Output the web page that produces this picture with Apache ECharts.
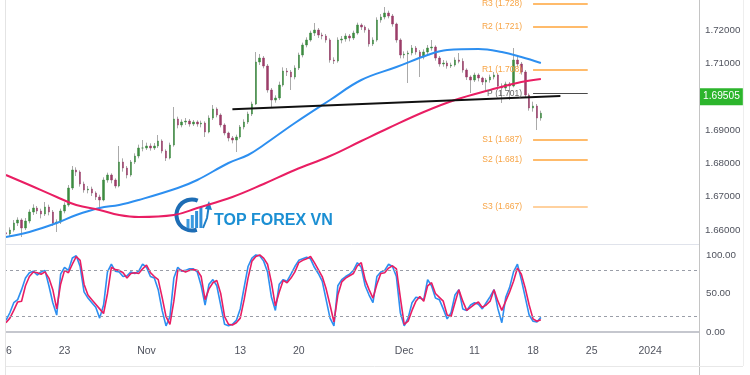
<!DOCTYPE html>
<html><head><meta charset="utf-8">
<script src="https://cdn.jsdelivr.net/npm/echarts@6/dist/echarts.min.js"></script>
<style>
html,body{margin:0;padding:0;background:#fff;}
#c{position:absolute;left:0;top:0;width:750px;height:375px;}
#mask{position:absolute;left:0;top:0;width:5px;height:375px;background:#fff;border-right:1px solid #e4e4e4;}
</style></head><body>
<div id="c"></div><div id="mask"></div>
<script>
// ---------- data ----------
const slotCount = 178; // bar slots on the time axis (incl. empty future)
const tickIndex = [0, 15, 36, 60, 75, 102, 120, 135, 150, 165];
const tickText  = ['16', '23', 'Nov', '13', '20', 'Dec', '11', '18', '25', '2024'];

const opens = [1.6592,1.6588,1.6600,1.6621,1.6630,1.6606,1.6627,1.6654,1.6666,1.6657,
1.6648,1.6669,1.6654,1.6621,1.6624,1.6657,1.6675,1.6726,1.6780,1.6774,
1.6738,1.6720,1.6723,1.6711,1.6699,1.6690,1.6750,1.6765,1.6750,1.6732,
1.6804,1.6786,1.6765,1.6804,1.6822,1.6846,1.6846,1.6852,1.6846,1.6852,
1.6867,1.6837,1.6816,1.6855,1.6933,1.6915,1.6924,1.6927,1.6918,1.6924,
1.6918,1.6921,1.6894,1.6936,1.6963,1.6945,1.6915,1.6891,1.6876,1.6870,
1.6879,1.6909,1.6924,1.6948,1.6978,1.7104,1.7116,1.7092,1.7020,1.6990,
1.6996,1.7035,1.7077,1.7074,1.7059,1.7086,1.7125,1.7155,1.7170,1.7191,
1.7200,1.7185,1.7182,1.7170,1.7110,1.7107,1.7170,1.7173,1.7182,1.7176,
1.7191,1.7215,1.7209,1.7200,1.7158,1.7170,1.7230,1.7239,1.7251,1.7242,
1.7218,1.7170,1.7125,1.7128,1.7131,1.7146,1.7134,1.7119,1.7134,1.7146,
1.7149,1.7116,1.7098,1.7101,1.7092,1.7095,1.7110,1.7106,1.7080,1.7059,
1.7050,1.7065,1.7056,1.7044,1.7050,1.7059,1.7065,1.7032,1.7026,1.7038,
1.7032,1.7110,1.7098,1.7074,1.7005,1.6966,1.6972,1.6936];
const closes = [1.6588,1.6600,1.6621,1.6630,1.6606,1.6627,1.6654,1.6666,1.6657,1.6648,
1.6669,1.6654,1.6621,1.6624,1.6657,1.6675,1.6726,1.6780,1.6774,1.6738,
1.6720,1.6723,1.6711,1.6699,1.6690,1.6750,1.6765,1.6750,1.6732,1.6804,
1.6786,1.6765,1.6804,1.6822,1.6846,1.6846,1.6852,1.6846,1.6852,1.6867,
1.6837,1.6816,1.6855,1.6933,1.6915,1.6924,1.6927,1.6918,1.6924,1.6918,
1.6921,1.6894,1.6936,1.6963,1.6945,1.6915,1.6891,1.6876,1.6870,1.6879,
1.6909,1.6924,1.6948,1.6978,1.7104,1.7116,1.7092,1.7020,1.6990,1.6996,
1.7035,1.7077,1.7074,1.7059,1.7086,1.7125,1.7155,1.7170,1.7191,1.7200,
1.7185,1.7182,1.7170,1.7110,1.7107,1.7170,1.7173,1.7182,1.7176,1.7191,
1.7215,1.7209,1.7200,1.7158,1.7170,1.7230,1.7239,1.7251,1.7242,1.7218,
1.7170,1.7125,1.7128,1.7131,1.7146,1.7134,1.7119,1.7134,1.7146,1.7149,
1.7116,1.7098,1.7101,1.7092,1.7095,1.7110,1.7106,1.7080,1.7059,1.7050,
1.7065,1.7056,1.7044,1.7050,1.7059,1.7065,1.7032,1.7026,1.7038,1.7032,
1.7110,1.7098,1.7074,1.7005,1.6966,1.6972,1.6936,1.69505];
const lows = [1.6561,1.6580,1.6595,1.6612,1.6579,1.6600,1.6620,1.6645,1.6648,1.6635,
1.6642,1.6644,1.6612,1.6594,1.6618,1.6650,1.6670,1.6720,1.6762,1.6730,
1.6712,1.6710,1.6702,1.6690,1.6666,1.6686,1.6742,1.6740,1.6725,1.6728,
1.6775,1.6755,1.6760,1.6798,1.6815,1.6836,1.6840,1.6838,1.6840,1.6846,
1.6830,1.6807,1.6812,1.6850,1.6905,1.6908,1.6915,1.6910,1.6912,1.6910,
1.6908,1.6879,1.6890,1.6930,1.6938,1.6908,1.6884,1.6866,1.6860,1.6834,
1.6874,1.6902,1.6918,1.6942,1.6975,1.7095,1.7085,1.7012,1.6966,1.6982,
1.6990,1.7030,1.7062,1.7020,1.7052,1.7080,1.7118,1.7148,1.7165,1.7182,
1.7176,1.7172,1.7162,1.7102,1.7098,1.7102,1.7160,1.7165,1.7166,1.7170,
1.7186,1.7200,1.7192,1.7150,1.7152,1.7165,1.7222,1.7232,1.7235,1.7210,
1.7162,1.7115,1.7115,1.7041,1.7124,1.7126,1.7059,1.7112,1.7128,1.7138,
1.7108,1.7090,1.7090,1.7084,1.7086,1.7090,1.7100,1.7072,1.7050,1.7011,
1.7044,1.7046,1.7035,1.7020,1.7042,1.7052,1.7025,1.6981,1.7018,1.6990,
1.7028,1.7088,1.7066,1.6998,1.6958,1.6955,1.6900,1.6928];
const highs = [1.6600,1.6608,1.6630,1.6638,1.6635,1.6636,1.6662,1.6677,1.6672,1.6664,
1.6684,1.6676,1.6660,1.6632,1.6664,1.6683,1.6735,1.6792,1.6788,1.6779,
1.6745,1.6732,1.6730,1.6716,1.6706,1.6758,1.6772,1.6770,1.6755,1.6852,
1.6815,1.6792,1.6810,1.6830,1.6856,1.6870,1.6862,1.6860,1.6861,1.6885,
1.6872,1.6842,1.6862,1.6969,1.6940,1.6932,1.6936,1.6933,1.6930,1.6929,
1.6928,1.6926,1.6944,1.6975,1.6968,1.6950,1.6920,1.6895,1.6882,1.6886,
1.6915,1.6932,1.6955,1.6985,1.7134,1.7128,1.7122,1.7098,1.7026,1.7004,
1.7045,1.7088,1.7086,1.7080,1.7094,1.7132,1.7162,1.7178,1.7198,1.7221,
1.7206,1.7192,1.7188,1.7175,1.7118,1.7178,1.7182,1.7190,1.7188,1.7198,
1.7222,1.7220,1.7214,1.7205,1.7178,1.7238,1.7248,1.7269,1.7258,1.7248,
1.7222,1.7175,1.7136,1.7138,1.7155,1.7152,1.7140,1.7142,1.7155,1.7170,
1.7154,1.7122,1.7110,1.7108,1.7102,1.7118,1.7131,1.7115,1.7085,1.7064,
1.7072,1.7070,1.7060,1.7056,1.7066,1.7074,1.7070,1.7040,1.7045,1.7044,
1.7146,1.7122,1.7104,1.7080,1.7010,1.6985,1.6978,1.6958];

const maBlueIdx = [0,6,13,18,24,29,34,44,49,57,62,66,74,83,91,100,108,113,121,127,132,137];
const maBlueVal = [1.6579,1.6594,1.6621,1.6645,1.6666,1.6675,1.6690,1.6726,1.6750,1.6801,1.6825,1.6855,1.6921,1.6990,1.7050,1.7089,1.7125,1.7140,1.7143,1.7134,1.7119,1.7101];
const maPinkIdx = [0,6,13,18,24,29,34,43,49,58,66,74,83,91,98,107,115,124,132,137];
const maPinkVal = [1.6765,1.6735,1.6699,1.6675,1.6660,1.6645,1.6639,1.6645,1.6666,1.6699,1.6738,1.6780,1.6822,1.6867,1.6906,1.6954,1.6990,1.7020,1.7044,1.7053];

const stochK = [15,25,38,42,55,70,77,79,74,78,
80,60,38,22,75,84,80,96,99,85,
52,44,38,32,18,35,78,88,79,78,
72,73,78,76,79,88,84,72,70,55,
28,8,20,70,84,79,80,82,82,78,
60,35,62,68,60,35,10,8,10,15,
30,58,85,96,100,99,92,78,45,28,
62,68,66,75,85,93,95,97,95,84,
76,66,42,18,8,60,68,72,75,80,
90,84,60,48,38,72,78,80,88,85,
72,25,8,18,38,45,44,42,68,60,
44,42,30,17,25,48,55,30,28,35,
38,36,30,38,46,55,30,12,45,58,
78,88,68,45,22,14,13,19];
const stochD = [12,18,28,39,40,60,72,78,77,75,
78,70,55,30,62,80,77,88,98,93,
62,48,42,36,30,24,50,84,81,80,
77,70,76,77,76,82,87,77,72,68,
45,20,10,40,80,80,78,80,81,80,
72,42,56,64,67,50,20,10,9,12,
18,42,70,92,98,100,96,88,64,34,
52,67,64,70,78,90,93,95,98,90,
81,72,56,35,13,48,65,70,73,76,
86,90,68,55,44,62,76,77,83,86,
82,45,10,14,28,40,46,40,60,64,
50,45,40,22,20,38,55,40,28,32,
36,39,32,35,40,55,40,28,40,52,
66,83,75,57,35,17,14,16];
const stochLevels = [80, 20];

const pivotNames  = ['R3', 'R2', 'R1', 'P', 'S1', 'S2', 'S3'];
const pivotValues = [1.728, 1.721, 1.708, 1.701, 1.687, 1.681, 1.667];
const pivotStart = 135, pivotEnd = 149;
const trendIdx = [58, 142];
const trendVal = [1.6962, 1.7002];
const lastPrice = 1.69505;

// ---------- styles ----------
const fam = '"Liberation Sans", Arial, sans-serif';
const axisText = '#50535e';
const upColor = '#3d8b40', downColor = '#9b3d68', wickColor = '#aaaaaa';
const pivotLineColors  = ['#ffa53a','#ffa53a','#ffa53a','#4a4a4a','#ffa53a','#ffa53a','#ffc27e'];
const pivotLabelColors = ['#f7a445','#f7a445','#f7a445','#666666','#f7a445','#f7a445','#f7a445'];

// ---------- build ----------
const categories = Array.from({length: slotCount}, (_, i) => {
  const k = tickIndex.indexOf(i); return k >= 0 ? tickText[k] : '';
});
const ohlc = opens.map((o, i) => [o, closes[i], lows[i], highs[i]]);
const bodies = opens.map((o, i) => [o, closes[i], Math.min(o, closes[i]), Math.max(o, closes[i])]);

const pivotMarks = pivotNames.map((n, k) => [
  { coord: [pivotStart, pivotValues[k]],
    lineStyle: { color: pivotLineColors[k], width: k === 3 ? 1.2 : 1.6, type: 'solid' },
    label: { show: true, position: 'start', distance: 11, formatter: n + ' (' + pivotValues[k].toFixed(3) + ')',
             color: pivotLabelColors[k], fontSize: 8.5, fontFamily: fam } },
  { coord: [pivotEnd, pivotValues[k]] }
]);

const chart = echarts.init(document.getElementById('c'), null, {renderer: 'canvas'});
chart.setOption({
  animation: false,
  backgroundColor: '#ffffff',
  grid: [
    { left: 4, right: 51, top: -3.33, height: 247.83, outerBoundsMode: 'none', containLabel: false },
    { left: 4, right: 51, top: 244.5, height: 92.5, outerBoundsMode: 'none', containLabel: false }
  ],
  xAxis: [
    { type: 'category', gridIndex: 0, data: categories, boundaryGap: true,
      axisLine: { show: true, lineStyle: { color: '#e0e3eb', width: 1 } },
      axisTick: { show: false }, axisLabel: { show: false }, splitLine: { show: false } },
    { type: 'category', gridIndex: 1, data: categories, boundaryGap: true,
      axisLine: { show: true, lineStyle: { color: '#b2b5be', width: 1.5 } },
      axisTick: { show: false }, splitLine: { show: false },
      axisLabel: { interval: 0, color: axisText, fontSize: 10.5, margin: 9, fontFamily: fam } }
  ],
  yAxis: [
    { type: 'value', gridIndex: 0, position: 'right', min: 1.65565, max: 1.73,
      minInterval: 0.01, maxInterval: 0.01,
      axisLine: { show: false }, axisTick: { show: false }, splitLine: { show: false },
      axisLabel: { showMinLabel: false, showMaxLabel: true, margin: 6, color: axisText, fontSize: 9.8,
                   fontFamily: fam, formatter: v => v.toFixed(5) } },
    { type: 'value', gridIndex: 1, position: 'right', min: -6.5, max: 113.6,
      minInterval: 50, maxInterval: 50,
      axisLine: { show: false }, axisTick: { show: false }, splitLine: { show: false },
      axisLabel: { showMinLabel: false, showMaxLabel: false, margin: 7, color: axisText, fontSize: 9.8,
                   fontFamily: fam, formatter: v => v.toFixed(2) } }
  ],
  series: [
    { name: 'wicks', type: 'candlestick', xAxisIndex: 0, yAxisIndex: 0, data: ohlc, barWidth: 1, silent: true,
      itemStyle: { color: wickColor, color0: wickColor, borderColor: wickColor, borderColor0: wickColor, borderWidth: 1 } },
    { name: 'bodies', type: 'candlestick', xAxisIndex: 0, yAxisIndex: 0, data: bodies, barWidth: 2, silent: true,
      itemStyle: { color: upColor, color0: downColor, borderColor: upColor, borderColor0: downColor, borderWidth: 0.5 },
      markLine: { silent: true, symbol: ['none', 'none'],
        lineStyle: { color: 'rgba(0,0,0,0)', width: 0 },
        data: [{ yAxis: lastPrice }],
        label: { show: true, position: 'end', distance: 1, formatter: lastPrice.toFixed(5),
                 color: '#ffffff', backgroundColor: '#2cb52c', padding: [4, 3, 3, 3],
                 fontSize: 10.2, fontFamily: fam } } },
    { name: 'MA blue', type: 'line', xAxisIndex: 0, yAxisIndex: 0, symbol: 'none', smooth: 0.4, silent: true,
      data: maBlueIdx.map((x, k) => [x, maBlueVal[k]]),
      lineStyle: { color: '#2d8ff0', width: 2 } },
    { name: 'MA pink', type: 'line', xAxisIndex: 0, yAxisIndex: 0, symbol: 'none', smooth: 0.4, silent: true,
      data: maPinkIdx.map((x, k) => [x, maPinkVal[k]]),
      lineStyle: { color: '#e91e63', width: 2 } },
    { name: 'trend', type: 'line', xAxisIndex: 0, yAxisIndex: 0, symbol: 'none', silent: true,
      data: trendIdx.map((x, k) => [x, trendVal[k]]),
      lineStyle: { color: '#111111', width: 2 },
      markLine: { silent: true, symbol: ['none', 'none'], data: pivotMarks } },
    { name: '%K', type: 'line', xAxisIndex: 1, yAxisIndex: 1, symbol: 'none', silent: true,
      data: stochK, lineStyle: { color: '#2d8ff0', width: 1.6 } },
    { name: '%D', type: 'line', xAxisIndex: 1, yAxisIndex: 1, symbol: 'none', silent: true,
      data: stochD, lineStyle: { color: '#e91e63', width: 1.6 },
      markLine: { silent: true, symbol: ['none', 'none'], label: { show: false },
        lineStyle: { color: '#9a9ea8', type: [3, 3], width: 1 },
        data: stochLevels.map(v => ({ yAxis: v })) } }
  ],
  graphic: [
    { type: 'line', z: 100, shape: { x1: 699.5, y1: 0, x2: 699.5, y2: 375 }, style: { stroke: '#c4c4c4', lineWidth: 1 } },
    { type: 'line', z: 100, shape: { x1: 743.5, y1: 0, x2: 743.5, y2: 366 }, style: { stroke: '#eeeeee', lineWidth: 1 } },
    { type: 'line', z: 100, shape: { x1: 6, y1: 366.5, x2: 743, y2: 366.5 }, style: { stroke: '#e8e8e8', lineWidth: 1 } },
    { type: 'group', z: 50, children: [
      { type: 'circle', shape: { cx: 192, cy: 215, r: 17 }, style: { fill: '#ffffff' } },
      { type: 'arc', shape: { cx: 192, cy: 215, r: 15.5, startAngle: Math.PI * 0.4, endAngle: Math.PI * 1.62, clockwise: true },
        style: { stroke: '#1d6db5', lineWidth: 4, fill: null } },
      { type: 'rect', shape: { x: 186.5, y: 219, width: 3, height: 9 }, style: { fill: '#3a9be0' } },
      { type: 'rect', shape: { x: 190.8, y: 215, width: 3, height: 13 }, style: { fill: '#3a9be0' } },
      { type: 'rect', shape: { x: 195.1, y: 211, width: 3, height: 17 }, style: { fill: '#2f8fd8' } },
      { type: 'rect', shape: { x: 199.4, y: 207, width: 3, height: 21 }, style: { fill: '#2f8fd8' } },
      { type: 'polyline', shape: { points: [[203, 228], [207, 218], [208.5, 208]] }, style: { stroke: '#1d7fc8', lineWidth: 2, fill: null } },
      { type: 'polygon', shape: { points: [[205, 209], [209, 201], [212, 210]] }, style: { fill: '#1d7fc8' } },
      { type: 'text', x: 214, y: 221, style: { text: 'TOP FOREX VN', fill: '#1b8fd3', font: 'bold 16px "Liberation Sans", Arial, sans-serif', verticalAlign: 'middle', align: 'left' } }
    ] }
  ]
});
</script>
</body></html>
